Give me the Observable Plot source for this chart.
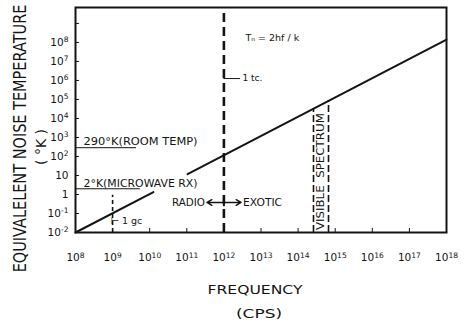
<!DOCTYPE html>
<html><head><meta charset="utf-8">
<script src="https://cdn.jsdelivr.net/npm/d3@7"></script>
<script src="https://cdn.jsdelivr.net/npm/@observablehq/plot@0.6"></script>
<style>body{margin:0;background:#fff} svg{display:block;background:#fff}</style>
</head><body><div id="chart"></div>
<script>
// Axis ticks
const xTickValues = [1e8,1e9,1e10,1e11,1e12,1e13,1e14,1e15,1e16,1e17,1e18];
const xTickLabels = ["10⁸","10⁹","10¹⁰","10¹¹","10¹²","10¹³","10¹⁴","10¹⁵","10¹⁶","10¹⁷","10¹⁸"];
const yTickValues = [1e-2,1e-1,1,10,1e2,1e3,1e4,1e5,1e6,1e7,1e8];
const yTickLabels = ["10⁻²","10⁻¹","1","10","10²","10³","10⁴","10⁵","10⁶","10⁷","10⁸"];
const yMinorTicks = [1e9];
const xDomain = [1e8, 1e18];
const yDomain = [1e-2, 6.9e9];

// Tn = 2hf/k curve (gap where the microwave label sits)
const curveFreq = [1e8, 1.26e10, 1.05e11, 1e18];
const curveTemp = [0.01, 1.35, 11.7, 1.4e8];
const curveSegment = ["a", "a", "b", "b"];

// Reference temperatures
const refTemps = [290, 2];
const refEndFreq = [4.4e9, 5.6e9];
const refLabels = ["290°K(ROOM TEMP)", "2°K(MICROWAVE RX)"];
const refLabelFreq = [1.65e8, 1.65e8];
const refLabelTemp = [620, 3.8];

// Frequency markers
const gcFreq = 1e9, gcTop = 0.9, gcLabelTemp = 0.043;
const tcFreq = 1e12, tcLabelTemp = 1.26e6, tcLeaderEnd = 2.8e12;
const boundaryTemp = 0.38, radioArrowEnd = 3.5e11, exoticArrowEnd = 2.9e12;

// Visible spectrum
const visibleFreq = [2.6e14, 6.6e14];
const visibleTop = [3.2e4, 8.5e4];
const visibleLabelFreq = 4.2e14, visibleLabelTemp = 16;

// Formula label
const formulaFreq = 3.8e12, formulaTemp = 1.8e8;

const ink = "#141414";
const curve = curveFreq.map((f, i) => ({f, t: curveTemp[i], s: curveSegment[i]}));
const refs = refTemps.map((t, i) => ({t, end: refEndFreq[i], label: refLabels[i], lf: refLabelFreq[i], lt: refLabelTemp[i]}));
const vis = visibleFreq.map((f, i) => ({f, top: visibleTop[i]}));

const yTitle = "EQUIVALELENT NOISE TEMPERATURE";

const chart = Plot.plot({
  width: 465, height: 329,
  marginLeft: 75, marginRight: 19, marginTop: 7, marginBottom: 97,
  style: {fontFamily: "DejaVu Sans", color: ink, background: "#fff"},
  x: {type: "log", domain: xDomain, axis: null},
  y: {type: "log", domain: yDomain, axis: null},
  marks: [
    Plot.axisX(xTickValues, {tickSize: 0, tickPadding: 21, fontSize: 10.5, label: null,
      tickFormat: d => xTickLabels[xTickValues.indexOf(d)]}),
    Plot.axisY(yTickValues, {tickSize: 0, tickPadding: 7, fontSize: 10.5, label: null,
      tickFormat: d => yTickLabels[yTickValues.indexOf(d)]}),
    Plot.tickX(xTickValues, {x: d => d, insetTop: 221, stroke: ink, strokeWidth: 1}),
    Plot.tickY([...yTickValues, ...yMinorTicks], {y: d => d, insetRight: 367, stroke: ink, strokeWidth: 1}),
    // reference temperature rules and labels
    Plot.ruleY(refs, {y: "t", x1: xDomain[0], x2: "end", stroke: ink, strokeWidth: 1}),
    Plot.text(refs, {x: "lf", y: "lt", text: "label", textAnchor: "start", fontSize: 10, fill: ink}),
    // 1 gc marker
    Plot.ruleX([gcFreq], {y1: yDomain[0], y2: gcTop, stroke: ink, strokeWidth: 1.6, strokeDasharray: "4,3"}),
    Plot.text(["⊢ 1 gc"], {x: gcFreq, y: gcLabelTemp, textAnchor: "start", dx: -2, fontSize: 9.5, fill: ink}),
    // 1 tc boundary
    Plot.ruleX([tcFreq], {y1: yDomain[0], y2: yDomain[1], stroke: ink, strokeWidth: 2.6, strokeDasharray: "9,5"}),
    Plot.ruleY([tcLabelTemp], {x1: tcFreq, x2: tcLeaderEnd, stroke: ink, strokeWidth: 1}),
    Plot.text(["1 tc."], {x: tcLeaderEnd, y: tcLabelTemp, textAnchor: "start", dx: 2, fontSize: 9, fill: ink}),
    // radio / exotic
    Plot.arrow([0], {x1: tcFreq, x2: radioArrowEnd, y1: boundaryTemp, y2: boundaryTemp, stroke: ink, strokeWidth: 1.4, headLength: 6}),
    Plot.arrow([0], {x1: tcFreq, x2: exoticArrowEnd, y1: boundaryTemp, y2: boundaryTemp, stroke: ink, strokeWidth: 1.4, headLength: 6}),
    Plot.ruleX([tcFreq], {y1: boundaryTemp * 0.6, y2: boundaryTemp * 1.7, stroke: ink, strokeWidth: 2}),
    Plot.text(["RADIO"], {x: radioArrowEnd, y: boundaryTemp, textAnchor: "end", dx: -2, fontSize: 10, fill: ink}),
    Plot.text(["EXOTIC"], {x: exoticArrowEnd, y: boundaryTemp, textAnchor: "start", dx: 2, fontSize: 10, fill: ink}),
    // visible spectrum
    Plot.ruleX(vis, {x: "f", y1: yDomain[0], y2: "top", stroke: ink, strokeWidth: 1.6, strokeDasharray: "7,3"}),
    Plot.text(["VISIBLE  SPECTRUM"], {x: visibleLabelFreq, y: visibleLabelTemp, rotate: -90, fontSize: 10, fill: ink}),
    // curve
    Plot.line(curve, {x: "f", y: "t", z: "s", stroke: ink, strokeWidth: 2}),
    Plot.text(["Tₙ = 2hf / k"], {x: formulaFreq, y: formulaTemp, textAnchor: "start", fontSize: 9.5, fill: ink}),
    // titles
    Plot.text([yTitle], {frameAnchor: "left", textAnchor: "middle", rotate: -90, dx: -55, dy: 18.5, fontSize: 13, fill: ink}),
    Plot.text(["( °K )"], {frameAnchor: "left", textAnchor: "middle", rotate: -90, dx: -34, dy: 27, fontSize: 14, fill: ink}),
    Plot.text(["FREQUENCY"], {frameAnchor: "bottom", dx: -6, dy: 61, fontSize: 13, fill: ink}),
    Plot.text(["(CPS)"], {frameAnchor: "bottom", dx: -2, dy: 85, fontSize: 13, fill: ink}),
    Plot.frame({stroke: ink, strokeWidth: 2})
  ]
});

document.getElementById("chart").appendChild(chart);

const lengths = {
  "FREQUENCY": 95,
  "(CPS)": 46,
  "290°K(ROOM TEMP)": 114,
  "2°K(MICROWAVE RX)": 114,
  "VISIBLE  SPECTRUM": 117,
  "RADIO": 33,
  "EXOTIC": 39
};
d3.select(chart).selectAll("text").each(function() {
  const s = this.textContent;
  const L = lengths[s];
  if (L) d3.select(this).attr("textLength", L).attr("lengthAdjust", "spacingAndGlyphs");
  if (s === yTitle) {
    // stretch the tall, narrow lettering of the axis title to its span
    const len = this.getComputedTextLength();
    const t = this.getAttribute("transform") || "";
    this.setAttribute("transform", `${t} scale(${268 / len},${17 / 13})`);
  }
});

// Render Unicode superscript exponents of tick labels as larger raised tspans
const supMap = {"⁰":"0","¹":"1","²":"2","³":"3","⁴":"4","⁵":"5","⁶":"6","⁷":"7","⁸":"8","⁹":"9","⁻":"-"};
const tickLabelSet = new Set([...xTickLabels, ...yTickLabels]);
d3.select(chart).selectAll("text").each(function() {
  const s = this.textContent;
  if (!tickLabelSet.has(s) || !/[⁰¹²³⁴⁵⁶⁷⁸⁹⁻]/.test(s)) return;
  const base = s.replace(/[⁰¹²³⁴⁵⁶⁷⁸⁹⁻]/g, "");
  const exp = [...s].filter(c => supMap[c]).map(c => supMap[c]).join("");
  const el = d3.select(this);
  el.text(null);
  el.append("tspan").text(base);
  el.append("tspan").attr("dy", "-0.45em").attr("font-size", "0.72em").text(exp);
});
</script>
</body></html>
